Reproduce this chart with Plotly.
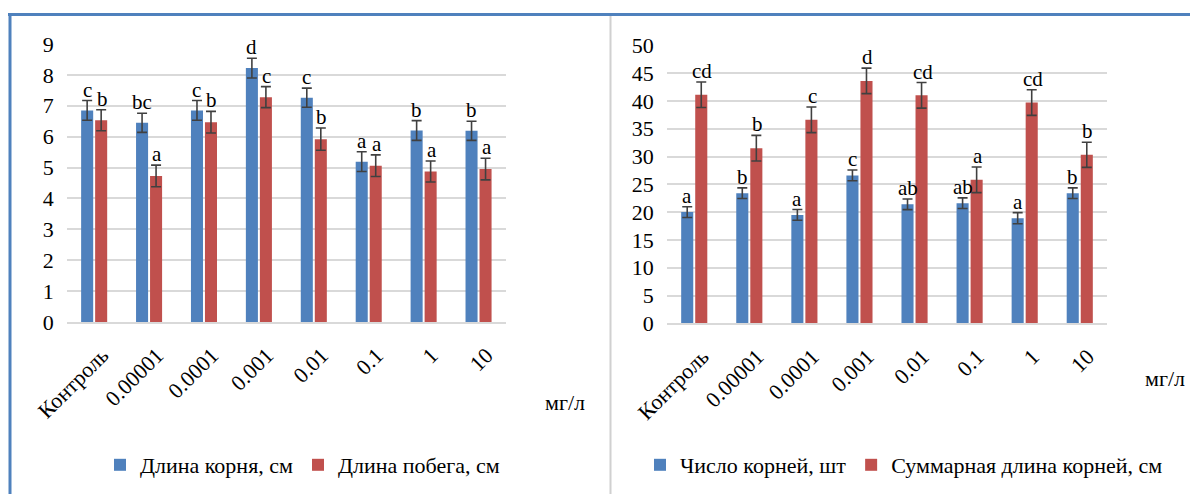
import plotly.graph_objects as go

categories = ["Контроль", "0.00001", "0.0001", "0.001", "0.01", "0.1", "1", "10"]

# Left chart
root_len = [6.85, 6.45, 6.85, 8.22, 7.26, 5.19, 6.20, 6.19]
root_len_err = [0.32, 0.31, 0.32, 0.32, 0.31, 0.32, 0.32, 0.31]
root_len_lbl = ["c", "bc", "c", "d", "c", "a", "b", "b"]
shoot_len = [6.53, 4.73, 6.47, 7.28, 5.92, 5.06, 4.87, 4.95]
shoot_len_err = [0.34, 0.35, 0.35, 0.34, 0.36, 0.35, 0.34, 0.35]
shoot_len_lbl = ["b", "a", "b", "c", "b", "a", "a", "a"]

# Right chart
root_num = [20.0, 23.4, 19.5, 26.6, 21.4, 21.6, 18.9, 23.4]
root_num_err = [0.96, 0.96, 0.96, 0.96, 0.96, 0.96, 1.0, 0.96]
root_num_lbl = ["a", "b", "a", "c", "ab", "ab", "a", "b"]
total_len = [41.1, 31.5, 36.6, 43.6, 41.0, 25.8, 39.7, 30.3]
total_len_err = [2.3, 2.3, 2.3, 2.3, 2.3, 2.3, 2.3, 2.25]
total_len_lbl = ["cd", "b", "c", "d", "cd", "a", "cd", "b"]

left_names = ["Длина корня, см", "Длина побега, см"]
right_names = ["Число корней, шт", "Суммарная длина корней, см"]
unit_label = "мг/л"

BLUE = "#4F81BD"
RED = "#C0504D"
FONT = "'Liberation Serif', 'Times New Roman', 'DejaVu Serif', serif"
W, H = 1198, 494
OFF = 8  # page body margin


def px(x):
    return (x - OFF) / W


def py(y):
    return 1 - (y - OFF) / H


idx = list(range(len(categories)))

fig = go.Figure()


def add_bar(name, y, err, color, xa, ya, legend):
    fig.add_trace(go.Bar(
        name=name, x=idx, y=y, marker_color=color,
        marker_line_width=0,
        error_y=dict(type="data", array=err, visible=True,
                     color="#404040", thickness=1.6, width=5),
        xaxis=xa, yaxis=ya, legend=legend,
    ))


add_bar(left_names[0], root_len, root_len_err, BLUE, "x", "y", "legend")
add_bar(left_names[1], shoot_len, shoot_len_err, RED, "x", "y", "legend")
add_bar(right_names[0], root_num, root_num_err, BLUE, "x2", "y2", "legend2")
add_bar(right_names[1], total_len, total_len_err, RED, "x2", "y2", "legend2")

annotations = []


def add_letters(vals, errs, lbls, xref, yref, shift):
    for i, v, e, t in zip(idx, vals, errs, lbls):
        annotations.append(dict(
            x=i, y=v + e, xref=xref, yref=yref, text=t, showarrow=False,
            yanchor="bottom", xanchor="center", xshift=shift, yshift=-3,
            font=dict(family=FONT, size=21, color="black")))


add_letters(root_len, root_len_err, root_len_lbl, "x", "y", -7)
add_letters(shoot_len, shoot_len_err, shoot_len_lbl, "x", "y", 8)
add_letters(root_num, root_num_err, root_num_lbl, "x2", "y2", -7)
add_letters(total_len, total_len_err, total_len_lbl, "x2", "y2", 8)

annotations.append(dict(x=px(543), y=py(402), xref="paper", yref="paper",
                        text=unit_label, showarrow=False, xanchor="left", yanchor="middle",
                        font=dict(family=FONT, size=22, color="black")))
annotations.append(dict(x=px(1143), y=py(378), xref="paper", yref="paper",
                        text=unit_label, showarrow=False, xanchor="left", yanchor="middle",
                        font=dict(family=FONT, size=22, color="black")))

axis_font = dict(family=FONT, size=22, color="black")
xcommon = dict(tickmode="array", tickvals=idx, ticktext=categories, range=[-0.5, len(idx) - 0.5],
               tickangle=-45, tickfont=axis_font, showgrid=False, zeroline=False,
               showline=True, linecolor="#D9D9D9", linewidth=1.5, ticks="", automargin=False,
               ticklabelstandoff=10, ticklabelshift=8)
ycommon = dict(tickfont=axis_font, showgrid=True, gridcolor="#D9D9D9", gridwidth=1.5,
               zeroline=False, showline=False, ticks="", ticklabelstandoff=12, automargin=False)

shapes = [
    dict(type="line", xref="paper", yref="paper", x0=px(8), x1=1, y0=py(14.5), y1=py(14.5),
         line=dict(color="#4F81BD", width=3)),
    dict(type="line", xref="paper", yref="paper", x0=px(10), x1=px(10), y0=0, y1=py(13),
         line=dict(color="#4F81BD", width=3)),
    dict(type="line", xref="paper", yref="paper", x0=px(610.5), x1=px(610.5), y0=0, y1=py(16),
         line=dict(color="#D0D0D0", width=2)),
]

fig.update_layout(
    width=W, height=H, margin=dict(l=0, r=0, t=0, b=0, autoexpand=False),
    paper_bgcolor="white", plot_bgcolor="white",
    barmode="group", bargap=0.49, bargroupgap=0.14,
    font=dict(family=FONT, size=22, color="black"),
    xaxis=dict(domain=[px(66.7), px(506)], anchor="y", **xcommon),
    yaxis=dict(domain=[py(322), py(44)], anchor="x", range=[0, 9], dtick=1, **ycommon),
    xaxis2=dict(domain=[px(666.7), px(1107.3)], anchor="y2", **xcommon),
    yaxis2=dict(domain=[py(323.3), py(45.3)], anchor="x2", range=[0, 50], dtick=5, **ycommon),
    legend=dict(orientation="h", x=px(100), y=py(465), xanchor="left", yanchor="middle",
                font=dict(family=FONT, size=22, color="black"), bgcolor="rgba(0,0,0,0)"),
    legend2=dict(orientation="h", x=px(640), y=py(465), xanchor="left", yanchor="middle",
                 font=dict(family=FONT, size=22, color="black"), bgcolor="rgba(0,0,0,0)"),
    annotations=annotations, shapes=shapes,
)

fig.write_html("out.html")
